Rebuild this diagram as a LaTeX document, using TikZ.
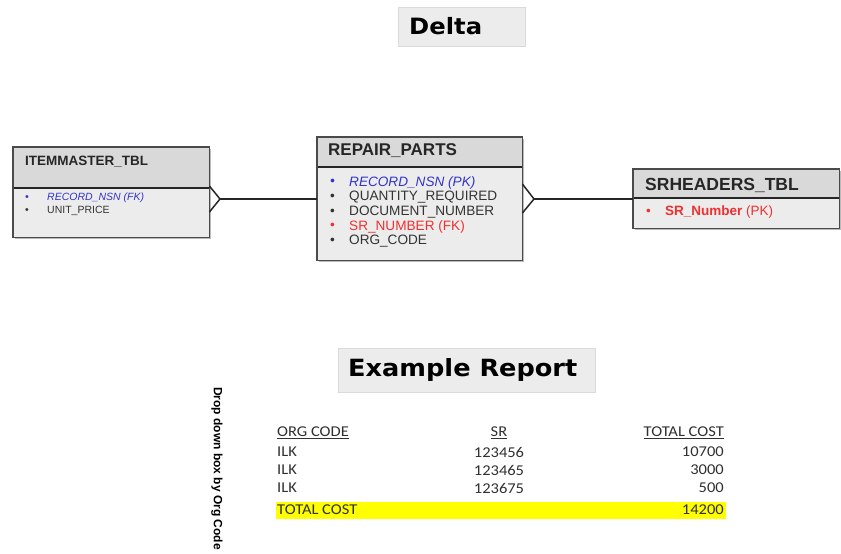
\documentclass[tikz,border=0pt]{standalone}
\usepackage{fontspec}
\setmainfont{Liberation Sans}
\newfontfamily\dvfont[FakeStretch=1.08]{DejaVu Sans}
\newfontfamily\calfont[FakeStretch=1.1]{Carlito}
\usetikzlibrary{shadows}
\definecolor{boxborder}{HTML}{4A4A4A}
\definecolor{headfill}{HTML}{D9D9D9}
\definecolor{bodyfill}{HTML}{ECECEC}
\definecolor{titlefill}{HTML}{ECECEC}
\definecolor{titleline}{HTML}{DADADA}
\definecolor{fkblue}{HTML}{3333CC}
\definecolor{pkred}{HTML}{F03030}
\definecolor{itemtxt}{HTML}{333333}
\definecolor{tabtxt}{HTML}{303030}
\definecolor{hiyellow}{HTML}{FFFF00}
\tikzset{
  ebox/.style={rectangle, inner sep=0pt, anchor=north west, fill=bodyfill,
    drop shadow={shadow xshift=2pt, shadow yshift=-2pt, fill=black!45, opacity=.6}},
  eborder/.style={draw=boxborder, line width=1.3pt},
  sepline/.style={draw=black!85, line width=1.5pt},
  conn/.style={draw=black!85, line width=1.5pt},
  ttl/.style={anchor=west, inner sep=0pt, font=\bfseries, text=black!85},
  itm/.style={anchor=west, inner sep=0pt, text=itemtxt},
  banner/.style={rectangle, anchor=north west, inner sep=0pt, fill=titlefill, draw=titleline, line width=1pt},
  tabt/.style={inner sep=0pt, text=tabtxt, font=\calfont\fontsize{15}{17}\selectfont},
}
\begin{document}
\begin{tikzpicture}[x=1pt,y=-1pt]
\useasboundingbox (0,0) rectangle (841,554);

% Delta banner
\node[banner, minimum width=127pt, minimum height=39pt] (delta) at (398,7) {};
\node[anchor=west, inner sep=0pt, font=\dvfont\bfseries\fontsize{22.5}{24}\selectfont] (deltat) at (409,26) {Delta};

% ITEMMASTER_TBL
\node[ebox, minimum width=196pt, minimum height=90pt] (item) at (13,147) {};
\fill[headfill] (item.north west) rectangle (209,188);
\draw[sepline] (13,188) -- (209,188);
\draw[eborder] (item.north west) rectangle (item.south east);
\node[ttl, font=\bfseries\fontsize{13.5}{15}\selectfont] (itemt) at (25,162) {ITEMMASTER\_TBL};
\node[itm, text=fkblue, font=\itshape\fontsize{10.5}{12}\selectfont] (itemb1) at (25,198) {•};
\node[itm, text=fkblue, font=\itshape\fontsize{10.5}{12}\selectfont] (item1) at (47,198) {RECORD\_NSN (FK)};
\node[itm, font=\fontsize{10.5}{12}\selectfont] (itemb2) at (25,211) {•};
\node[itm, font=\fontsize{10.5}{12}\selectfont] (item2) at (47,211) {UNIT\_PRICE};

% REPAIR_PARTS
\node[ebox, minimum width=205pt, minimum height=123pt] (rp) at (317,137) {};
\fill[headfill] (rp.north west) rectangle (522,167);
\draw[sepline] (317,167) -- (522,167);
\draw[eborder] (rp.north west) rectangle (rp.south east);
\node[ttl, font=\bfseries\fontsize{17}{19}\selectfont] (rpt) at (328,151) {REPAIR\_PARTS};
\node[itm, text=fkblue, font=\itshape\fontsize{13.6}{15}\selectfont] (rpb1) at (330,182.5) {•};
\node[itm, text=fkblue, font=\itshape\fontsize{13.6}{15}\selectfont] (rp1) at (349,182.5) {RECORD\_NSN (PK)};
\node[itm, font=\fontsize{13.6}{15}\selectfont] (rpb2) at (330,197.3) {•};
\node[itm, font=\fontsize{13.6}{15}\selectfont] (rp2) at (349,197.3) {QUANTITY\_REQUIRED};
\node[itm, font=\fontsize{13.6}{15}\selectfont] (rpb3) at (330,212) {•};
\node[itm, font=\fontsize{13.6}{15}\selectfont] (rp3) at (349,212) {DOCUMENT\_NUMBER};
\node[itm, text=pkred, font=\fontsize{13.6}{15}\selectfont] (rpb4) at (330,226.8) {•};
\node[itm, text=pkred, font=\fontsize{13.6}{15}\selectfont] (rp4) at (349,226.8) {SR\_NUMBER (FK)};
\node[itm, font=\fontsize{13.6}{15}\selectfont] (rpb5) at (330,241.6) {•};
\node[itm, font=\fontsize{13.6}{15}\selectfont] (rp5) at (349,241.6) {ORG\_CODE};

% SRHEADERS_TBL
\node[ebox, minimum width=206pt, minimum height=59pt] (sr) at (633,169) {};
\fill[headfill] (sr.north west) rectangle (839,198);
\draw[sepline] (633,198) -- (839,198);
\draw[eborder] (sr.north west) rectangle (sr.south east);
\node[ttl, font=\bfseries\fontsize{17.5}{19}\selectfont] (srt) at (645,185) {SRHEADERS\_TBL};
\node[itm, text=pkred, font=\fontsize{13.5}{15}\selectfont] (srb1) at (646,212) {•};
\node[itm, text=pkred, font=\fontsize{13.5}{15}\selectfont] (sr1) at (665,212) {\textbf{SR\_Number} (PK)};

% connectors with crow's feet
\coordinate (cf1) at (220,199);
\draw[conn] (item.east |- 0,186) -- (cf1) -- (item.east |- 0,212);
\draw[conn] (cf1) -- (rp.west |- cf1);
\coordinate (cf2) at (534,199);
\draw[conn] (rp.east |- 0,184) -- (cf2) -- (rp.east |- 0,213);
\draw[conn] (cf2) -- (sr.west |- cf2);

% Example Report banner
\node[banner, minimum width=257pt, minimum height=44pt] (ex) at (338,348) {};
\node[anchor=west, inner sep=0pt, font=\dvfont\bfseries\fontsize{23.7}{26}\selectfont] (ext) at (348,370) {Example Report};

% rotated side label
\node[anchor=west, inner sep=0pt, rotate=-90, font=\bfseries\fontsize{12}{14}\selectfont] (drop) at (217,387) {Drop down box by Org Code};

% report table
\fill[hiyellow] (276,502) rectangle (726,519);
\node[tabt, anchor=west] (h1) at (277,433) {\underline{ORG CODE}};
\node[tabt] (h2) at (499,433) {\underline{SR}};
\node[tabt, anchor=east] (h3) at (724,433) {\underline{TOTAL COST}};
\node[tabt, anchor=west] (r1a) at (277,452) {ILK};
\node[tabt] (r1b) at (499,452) {123456};
\node[tabt, anchor=east] (r1c) at (724,452) {10700};
\node[tabt, anchor=west] (r2a) at (277,470) {ILK};
\node[tabt] (r2b) at (499,470) {123465};
\node[tabt, anchor=east] (r2c) at (724,470) {3000};
\node[tabt, anchor=west] (r3a) at (277,488) {ILK};
\node[tabt] (r3b) at (499,488) {123675};
\node[tabt, anchor=east] (r3c) at (724,488) {500};
\node[tabt, anchor=west] (r4a) at (277,510) {TOTAL COST};
\node[tabt, anchor=east] (r4c) at (724,510) {14200};
\end{tikzpicture}
\end{document}
